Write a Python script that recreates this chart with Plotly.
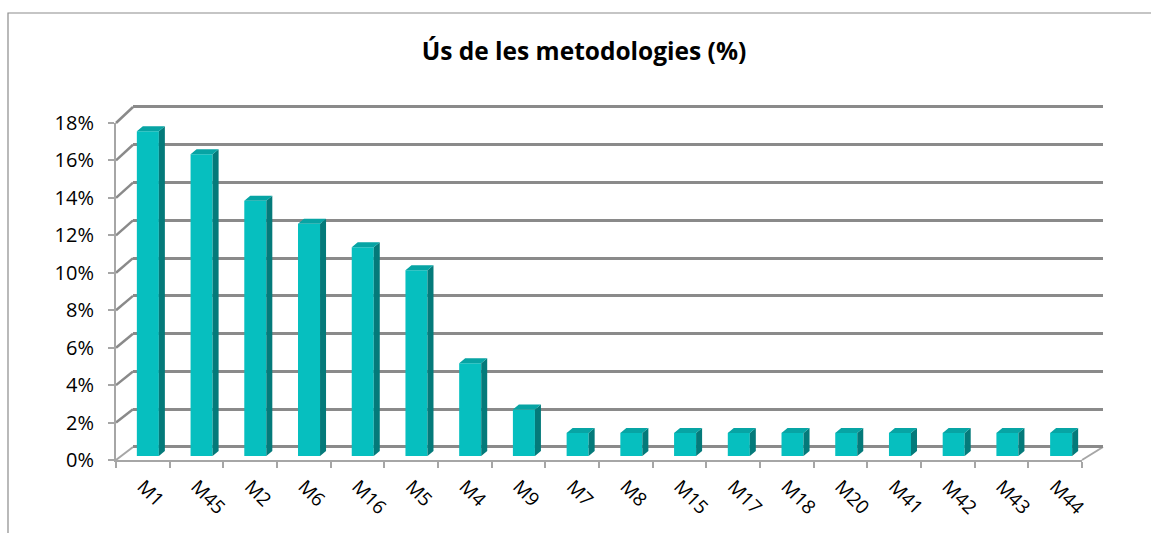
import plotly.graph_objects as go

# ---------------- data ----------------
categories = ["M1", "M45", "M2", "M6", "M16", "M5", "M4", "M9", "M7", "M8",
              "M15", "M17", "M18", "M20", "M41", "M42", "M43", "M44"]
usage_pct = [17.28, 16.05, 13.58, 12.35, 11.11, 9.88, 4.94, 2.47, 1.23, 1.23,
             1.23, 1.23, 1.23, 1.23, 1.23, 1.23, 1.23, 1.23]
y_ticks = [0, 2, 4, 6, 8, 10, 12, 14, 16, 18]
y_ticklabels = [f"{v}%" for v in y_ticks]
title_text = "Ús de les metodologies (%)"

# ---------------- geometry (pixels) ----------------
W, H = 1151, 533
YMAX = 18


def px(x):
    return x / W


def py(y):
    return 1 - y / H


FRONT = dict(x0=116, x1=1082, yb=460, yt=123)   # front plane: y pixel at 0 and at 18
BACK = dict(x0=133, x1=1103, yb=447, yt=107)    # back wall
BARP = dict(x0=121, x1=1088, yb=456, yt=117.6)  # plane where bar fronts sit

FONT = "Open Sans"
GRID = "#8A8A8A"
AXC = "#A6A6A6"
FRONT_C = "#06BFBF"
SIDE_C = "#047A7A"
TOP_C = "#07A4A4"

n = len(categories)
idx = list(range(n))
bar_w = 0.41
unit_px = (BARP["x1"] - BARP["x0"]) / n
yunit_px = (BARP["yb"] - BARP["yt"]) / YMAX
dx = 6 / unit_px
dy = 5 / yunit_px

# padded range for the back wall so edge gridlines are drawn
PAD = 0.5
back_ppu = (BACK["yb"] - BACK["yt"]) / YMAX
back_dom = [py(BACK["yb"] + PAD * back_ppu), py(BACK["yt"] - PAD * back_ppu)]

fig = go.Figure()

# back wall (gridlines) subplot: xy
fig.add_trace(go.Scatter(x=[0], y=[0], mode="lines", xaxis="x", yaxis="y",
                         hoverinfo="skip", showlegend=False))

# bars: x2y2
fig.add_trace(go.Bar(x=idx, y=usage_pct, width=bar_w, xaxis="x2", yaxis="y2",
                     marker=dict(color=FRONT_C, line=dict(width=0)),
                     hoverinfo="skip", showlegend=False))

sx, sy, tx, ty = [], [], [], []
for i, v in zip(idx, usage_pct):
    xl = i - bar_w / 2
    xr = i + bar_w / 2
    sx += [xr, xr, xr + dx, xr + dx, xr, None]
    sy += [0, v, v + dy, dy, 0, None]
    tx += [xl, xr, xr + dx, xl + dx, xl, None]
    ty += [v, v, v + dy, v + dy, v, None]

fig.add_trace(go.Scatter(x=sx, y=sy, xaxis="x2", yaxis="y2", mode="lines",
                         fill="toself", fillcolor=SIDE_C, line=dict(width=0, color=SIDE_C),
                         hoverinfo="skip", showlegend=False))
fig.add_trace(go.Scatter(x=tx, y=ty, xaxis="x2", yaxis="y2", mode="lines",
                         fill="toself", fillcolor=TOP_C, line=dict(width=0, color=TOP_C),
                         hoverinfo="skip", showlegend=False))

# front axes: x3y3
fig.add_trace(go.Scatter(x=categories, y=usage_pct, xaxis="x3", yaxis="y3", mode="markers",
                         marker=dict(opacity=0), hoverinfo="skip", showlegend=False))

# ---------------- shapes: 3D frame diagonals, outer border ----------------
shapes = []


def yf(v):
    return FRONT["yb"] - (FRONT["yb"] - FRONT["yt"]) * v / YMAX


def ybk(v):
    return BACK["yb"] - (BACK["yb"] - BACK["yt"]) * v / YMAX


for v in y_ticks:
    shapes.append(dict(type="line", xref="paper", yref="paper", layer="below",
                       x0=px(FRONT["x0"]), y0=py(yf(v)), x1=px(BACK["x0"]), y1=py(ybk(v)),
                       line=dict(color=GRID if v > 0 else AXC, width=2.5 if v > 0 else 2)))
# floor right edge
shapes.append(dict(type="line", xref="paper", yref="paper", layer="below",
                   x0=px(FRONT["x1"]), y0=py(FRONT["yb"]), x1=px(BACK["x1"]), y1=py(BACK["yb"]),
                   line=dict(color=AXC, width=2)))
# outer chart border
shapes.append(dict(type="rect", xref="paper", yref="paper", layer="below",
                   x0=px(8), y0=py(13), x1=1.05, y1=-0.05,
                   line=dict(color="#8C8C8C", width=1.2), fillcolor="rgba(0,0,0,0)"))

tickfont = dict(family=FONT, size=20, color="#000000")
xtickfont = dict(family=FONT, size=19, color="#000000")

fig.update_layout(
    template="none",
    width=W, height=H,
    margin=dict(l=0, r=0, t=0, b=0, pad=0, autoexpand=False),
    paper_bgcolor="white", plot_bgcolor="rgba(0,0,0,0)",
    showlegend=False,
    shapes=shapes,
    title=dict(text=f"<b>{title_text}</b>", x=px(584), y=py(51), xanchor="center", yanchor="middle",
               font=dict(family=FONT, size=24.5, color="#000000")),
    xaxis=dict(domain=[px(BACK["x0"]), px(BACK["x1"])], range=[0, 1], visible=False,
               showgrid=False, anchor="y", automargin=False),
    yaxis=dict(domain=back_dom, range=[-PAD, YMAX + PAD],
               tickvals=y_ticks, showgrid=True, gridcolor=GRID, gridwidth=2.5,
               zeroline=False, showticklabels=False, ticks="", showline=False, anchor="x",
               automargin=False),
    xaxis2=dict(domain=[px(BARP["x0"]), px(BARP["x1"])], range=[-0.5, n - 0.5], visible=False,
                anchor="y2", automargin=False),
    yaxis2=dict(domain=[py(BARP["yb"]), py(BARP["yt"])], range=[0, YMAX], visible=False,
                anchor="x2", automargin=False),
    xaxis3=dict(domain=[px(FRONT["x0"]), px(FRONT["x1"])], type="category",
                categoryorder="array", categoryarray=categories, range=[-0.5, n - 0.5],
                tickson="boundaries", ticks="outside", ticklen=6, tickwidth=2, tickcolor=AXC,
                showline=True, linecolor=AXC, linewidth=2, showgrid=False, zeroline=False,
                tickangle=45, tickfont=xtickfont, ticklabelstandoff=6, anchor="y3",
                automargin=False),
    yaxis3=dict(domain=[py(FRONT["yb"]), py(FRONT["yt"])], range=[0, YMAX],
                tickvals=y_ticks, ticktext=y_ticklabels, ticks="outside", ticklen=6,
                tickwidth=2, tickcolor=AXC, showline=True, linecolor=AXC, linewidth=2,
                showgrid=False, zeroline=False, tickfont=tickfont, ticklabelstandoff=10,
                anchor="x3", automargin=False),
)

fig.write_html("out.html", config={"displayModeBar": False},
               post_script="document.body.style.margin='0px';")
